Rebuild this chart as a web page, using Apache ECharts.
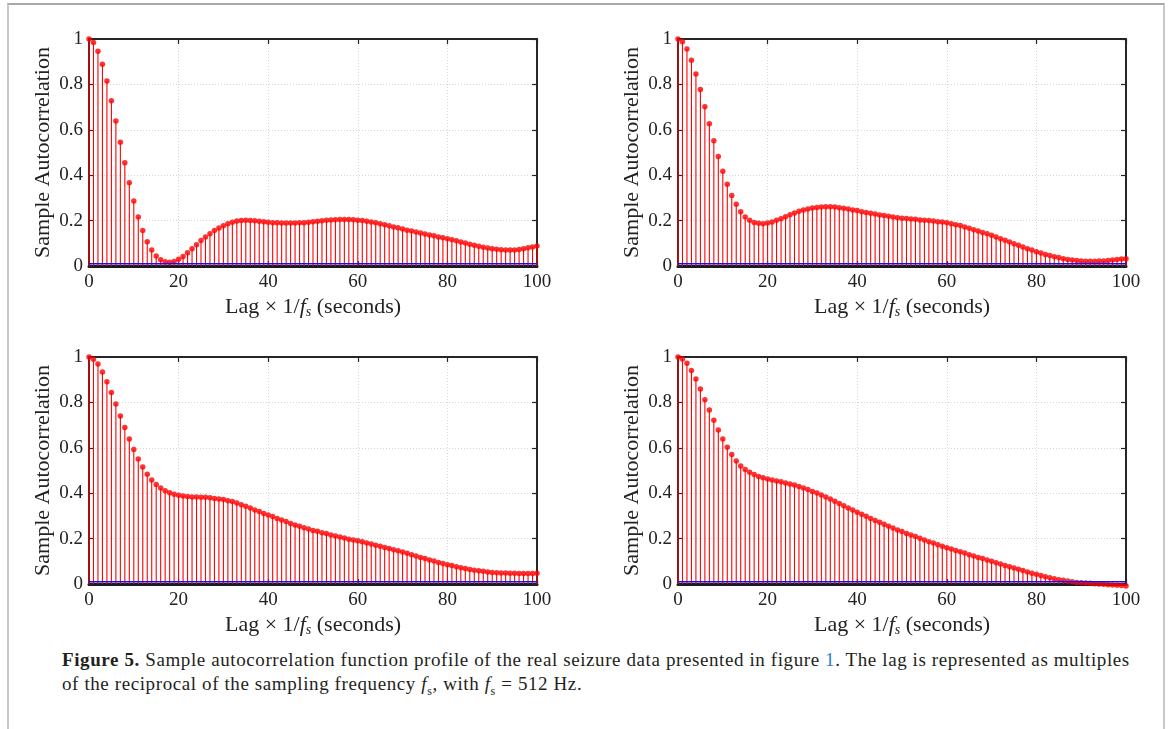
<!DOCTYPE html>
<html>
<head>
<meta charset="utf-8">
<script src="https://cdn.jsdelivr.net/npm/echarts@6/dist/echarts.min.js"></script>
<style>
  html, body { margin: 0; padding: 0; background: #fff; }
  #frame { position: absolute; left: 7px; top: 3px; width: 1154px; height: 740px;
           border-left: 2px solid #c8c8c8; border-right: 2px solid #c8c8c8; border-top: 2px solid #a8a8a8; }
  #chart { position: absolute; left: 0; top: 0; width: 1170px; height: 640px; }
  #caption { position: absolute; left: 62px; top: 648px; width: 1100px;
             font-family: "Liberation Serif", serif; font-size: 19px; line-height: 24px; color: #231f20;
             letter-spacing: 0.6px; }
  #caption .lnk { color: #2a7fc1; }
</style>
</head>
<body>
<div id="frame"></div>
<div id="chart"></div>
<div id="caption"><b>Figure 5.</b> Sample autocorrelation function profile of the real seizure data presented in figure <span class="lnk">1</span>. The lag is represented as multiples<br>of the reciprocal of the sampling frequency <i>f</i><sub style="font-size:12px">s</sub>, with <i>f</i><sub style="font-size:12px">s</sub> = 512 Hz.</div>
<script>
// Sample autocorrelation values at lags 0..100
const acfTopLeft = [
  1.000, 0.985, 0.946, 0.889, 0.815, 0.728, 0.639, 0.545, 0.455, 0.367,
  0.286, 0.216, 0.156, 0.107, 0.070, 0.044, 0.028, 0.019, 0.017, 0.020,
  0.030, 0.042, 0.058, 0.076, 0.094, 0.112, 0.128, 0.142, 0.156, 0.167,
  0.177, 0.186, 0.193, 0.198, 0.200, 0.201, 0.200, 0.199, 0.197, 0.195,
  0.193, 0.191, 0.190, 0.189, 0.189, 0.189, 0.189, 0.190, 0.191, 0.193,
  0.195, 0.197, 0.199, 0.201, 0.203, 0.204, 0.205, 0.205, 0.205, 0.204,
  0.202, 0.200, 0.197, 0.194, 0.190, 0.186, 0.182, 0.177, 0.172, 0.168,
  0.163, 0.158, 0.154, 0.150, 0.145, 0.141, 0.137, 0.133, 0.128, 0.124,
  0.120, 0.116, 0.111, 0.106, 0.101, 0.096, 0.091, 0.087, 0.083, 0.079,
  0.076, 0.074, 0.072, 0.071, 0.070, 0.071, 0.073, 0.076, 0.080, 0.084,
  0.088
];
const acfTopRight = [
  1.000, 0.988, 0.956, 0.906, 0.846, 0.777, 0.702, 0.627, 0.552, 0.482,
  0.417, 0.360, 0.311, 0.272, 0.239, 0.216, 0.201, 0.192, 0.188, 0.186,
  0.189, 0.194, 0.201, 0.208, 0.217, 0.226, 0.233, 0.241, 0.247, 0.251,
  0.256, 0.258, 0.260, 0.261, 0.261, 0.260, 0.257, 0.254, 0.251, 0.247,
  0.244, 0.239, 0.236, 0.232, 0.229, 0.225, 0.222, 0.219, 0.216, 0.213,
  0.210, 0.209, 0.207, 0.206, 0.203, 0.201, 0.200, 0.198, 0.195, 0.194,
  0.191, 0.186, 0.182, 0.178, 0.172, 0.166, 0.160, 0.154, 0.148, 0.142,
  0.135, 0.128, 0.120, 0.113, 0.106, 0.098, 0.091, 0.084, 0.076, 0.070,
  0.063, 0.057, 0.051, 0.046, 0.041, 0.037, 0.032, 0.029, 0.026, 0.024,
  0.022, 0.021, 0.021, 0.021, 0.022, 0.022, 0.024, 0.026, 0.029, 0.031,
  0.032
];
const acfBottomLeft = [
  1.000, 0.990, 0.969, 0.934, 0.891, 0.844, 0.793, 0.740, 0.689, 0.639,
  0.592, 0.551, 0.515, 0.483, 0.458, 0.438, 0.423, 0.411, 0.402, 0.395,
  0.391, 0.388, 0.385, 0.383, 0.383, 0.382, 0.382, 0.380, 0.377, 0.374,
  0.372, 0.367, 0.363, 0.357, 0.349, 0.342, 0.335, 0.326, 0.319, 0.311,
  0.304, 0.297, 0.289, 0.282, 0.275, 0.267, 0.260, 0.254, 0.248, 0.242,
  0.236, 0.232, 0.226, 0.222, 0.216, 0.211, 0.207, 0.203, 0.197, 0.194,
  0.190, 0.186, 0.181, 0.176, 0.171, 0.166, 0.161, 0.156, 0.151, 0.146,
  0.141, 0.135, 0.129, 0.123, 0.117, 0.112, 0.106, 0.101, 0.095, 0.090,
  0.085, 0.081, 0.076, 0.072, 0.068, 0.064, 0.061, 0.058, 0.056, 0.053,
  0.051, 0.050, 0.049, 0.048, 0.047, 0.047, 0.046, 0.046, 0.046, 0.046,
  0.047
];
const acfBottomRight = [
  1.000, 0.991, 0.972, 0.940, 0.903, 0.859, 0.812, 0.767, 0.721, 0.678,
  0.639, 0.602, 0.570, 0.542, 0.520, 0.504, 0.492, 0.482, 0.474, 0.468,
  0.463, 0.458, 0.454, 0.450, 0.445, 0.441, 0.436, 0.430, 0.423, 0.416,
  0.408, 0.401, 0.392, 0.383, 0.374, 0.364, 0.355, 0.345, 0.335, 0.326,
  0.316, 0.307, 0.298, 0.289, 0.280, 0.272, 0.263, 0.254, 0.247, 0.238,
  0.231, 0.223, 0.216, 0.209, 0.201, 0.194, 0.186, 0.181, 0.173, 0.166,
  0.160, 0.154, 0.148, 0.142, 0.137, 0.129, 0.123, 0.117, 0.112, 0.106,
  0.100, 0.094, 0.088, 0.082, 0.076, 0.070, 0.065, 0.059, 0.053, 0.047,
  0.043, 0.037, 0.032, 0.028, 0.023, 0.019, 0.016, 0.013, 0.010, 0.007,
  0.006, 0.004, 0.003, 0.001, 0.000, -0.001, -0.003, -0.004, -0.006, -0.007,
  -0.009
];
const confBound = 0.01;
const xTicks = [0, 20, 40, 60, 80, 100];
const yTicks = [0, 0.2, 0.4, 0.6, 0.8, 1];
const xAxisTitle = 'Lag \u00d7 1/{i|f}{s|s} (seconds)';
const yAxisTitle = 'Sample Autocorrelation';

const panels = [acfTopLeft, acfTopRight, acfBottomLeft, acfBottomRight];
const gridPos = [
  { left: 89, top: 39 }, { left: 678, top: 39 },
  { left: 89, top: 357 }, { left: 678, top: 357 }
];

const FONT = 'Liberation Serif';
const AX = '#262626';
const grids = [], xAxes = [], yAxes = [], series = [];

panels.forEach((vals, k) => {
  grids.push({ left: gridPos[k].left, top: gridPos[k].top, width: 448, height: 227 });
  const xi = xAxes.length, yi = yAxes.length;
  // main bottom axis
  xAxes.push({
    type: 'value', gridIndex: k, min: xTicks[0], max: xTicks[xTicks.length - 1], interval: 20,
    position: 'bottom',
    axisLine: { show: true, onZero: false, lineStyle: { color: '#1a1a1a', width: 3 } },
    axisTick: { show: true, inside: true, length: 5, lineStyle: { color: AX, width: 1.2 } },
    axisLabel: { color: '#222', fontFamily: FONT, fontSize: 19, margin: 7 },
    splitLine: { show: true, lineStyle: { color: '#d6d6d6', type: [1, 2], width: 1 } },
    name: xAxisTitle, nameLocation: 'middle', nameGap: 30,
    nameTextStyle: {
      color: '#222', fontFamily: FONT, fontSize: 22,
      rich: {
        i: { fontFamily: FONT, fontStyle: 'italic', fontSize: 22, color: '#222' },
        s: { fontFamily: FONT, fontStyle: 'italic', fontSize: 14, color: '#222', padding: [9, 0, 0, 0] }
      }
    }
  });
  // top mirror axis
  xAxes.push({
    type: 'value', gridIndex: k, min: 0, max: 100, interval: 20, position: 'top',
    axisLine: { show: true, onZero: false, lineStyle: { color: AX, width: 2 } },
    axisTick: { show: true, inside: true, length: 5, lineStyle: { color: AX, width: 1.2 } },
    axisLabel: { show: false }, splitLine: { show: false }
  });
  yAxes.push({
    type: 'value', gridIndex: k, min: yTicks[0], max: yTicks[yTicks.length - 1], interval: 0.2,
    position: 'left',
    axisLine: { show: true, onZero: false, lineStyle: { color: AX, width: 2 } },
    axisTick: { show: true, inside: true, length: 5, lineStyle: { color: AX, width: 1.2 } },
    axisLabel: { color: '#222', fontFamily: FONT, fontSize: 19, margin: 6,
      formatter: v => String(parseFloat(v.toFixed(1))) },
    splitLine: { show: true, lineStyle: { color: '#d6d6d6', type: [1, 2], width: 1 } },
    name: yAxisTitle, nameLocation: 'middle', nameGap: 35, nameRotate: 90,
    nameTextStyle: { color: '#222', fontFamily: FONT, fontSize: 22 }
  });
  yAxes.push({
    type: 'value', gridIndex: k, min: 0, max: 1, interval: 0.2, position: 'right',
    axisLine: { show: true, onZero: false, lineStyle: { color: AX, width: 2 } },
    axisTick: { show: true, inside: true, length: 5, lineStyle: { color: AX, width: 1.2 } },
    axisLabel: { show: false }, splitLine: { show: false }
  });

  const pts = vals.map((v, i) => [i, v]);
  // stems
  series.push({
    type: 'custom', xAxisIndex: xi, yAxisIndex: yi, clip: false, z: 3,
    renderItem: (params, api) => {
      const p0 = api.coord([api.value(0), 0]);
      const p1 = api.coord([api.value(0), api.value(1)]);
      return { type: 'line', shape: { x1: p0[0], y1: p0[1], x2: p1[0], y2: p1[1] },
               style: { stroke: '#ff0000', lineWidth: 1.1 } };
    },
    data: pts, silent: true
  });
  // markers
  series.push({
    type: 'scatter', xAxisIndex: xi, yAxisIndex: yi, data: pts, clip: false, z: 4,
    symbol: 'circle', symbolSize: 5.5, itemStyle: { color: '#ff0000' }, silent: true
  });
  // confidence bound line
  series.push({
    type: 'line', xAxisIndex: xi, yAxisIndex: yi, z: 5, silent: true,
    data: [[0, confBound], [100, confBound]], symbol: 'none',
    lineStyle: { color: '#1010ff', width: 1.5 }
  });
});

const chart = echarts.init(document.getElementById('chart'), null, { renderer: 'canvas' });
chart.setOption({
  animation: false,
  grid: grids, xAxis: xAxes, yAxis: yAxes, series: series
});
</script>
</body>
</html>
